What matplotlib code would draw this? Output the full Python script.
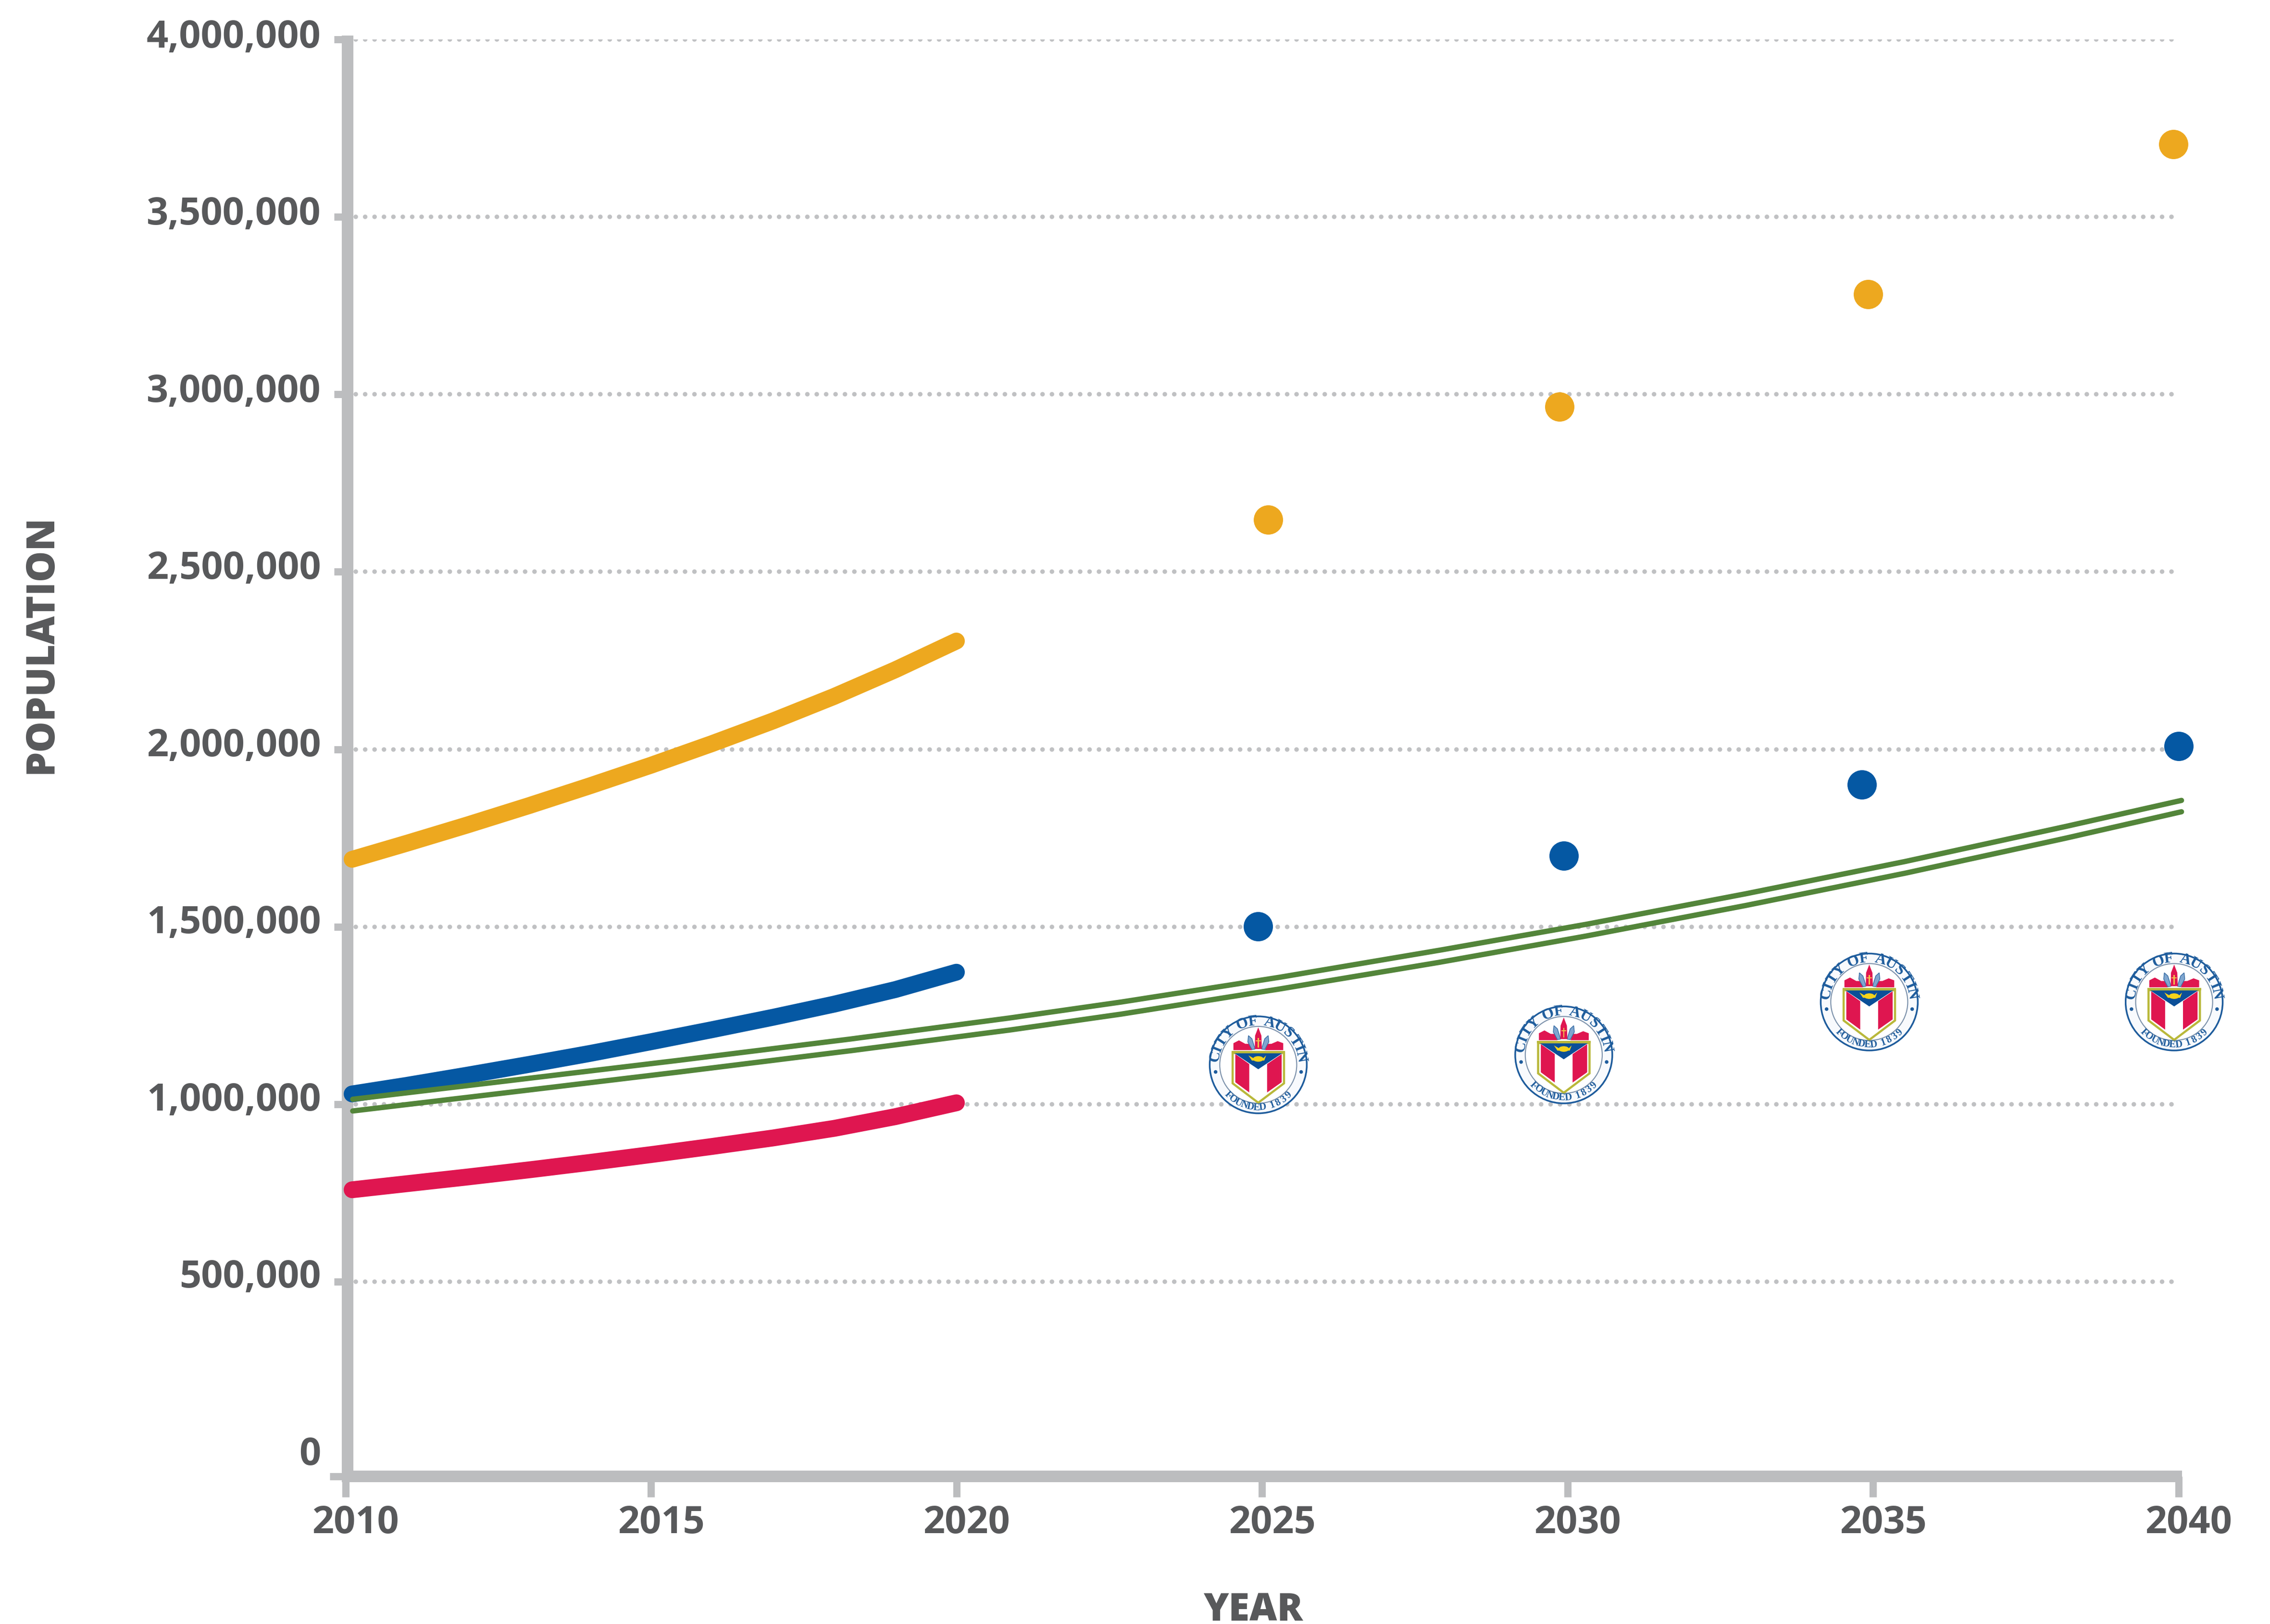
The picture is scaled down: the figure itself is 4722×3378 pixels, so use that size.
import numpy as np
import matplotlib
matplotlib.use("Agg")
import matplotlib.pyplot as plt
from matplotlib.patches import Circle, Ellipse, Polygon
from matplotlib.transforms import Affine2D

W, H, DPI = 4722, 3378, 100
PX = 72 / DPI   # un pixel en puntos

# ----------------- Datos -----------------
x_ticks = [2010, 2015, 2020, 2025, 2030, 2035, 2040]
y_values = [500000, 1000000, 1500000, 2000000, 2500000, 3000000, 3500000, 4000000]
y_labels = ["0", "500,000", "1,000,000", "1,500,000", "2,000,000",
            "2,500,000", "3,000,000", "3,500,000", "4,000,000"]
y_floor = -42500    # el eje horizontal queda un poco por debajo del cero

years_hist = [2010.11, 2011, 2012, 2013, 2014, 2015, 2016, 2017, 2018, 2019, 2020]
orange_hist = [1690000, 1735000, 1787000, 1841000, 1897000, 1955000, 2016000, 2080000, 2149000, 2224000, 2305000]
blue_hist = [1029000, 1053000, 1082000, 1112000, 1143000, 1176000, 1210000, 1245000, 1282000, 1323000, 1372000]
red_hist = [759000, 776000, 795000, 815000, 836000, 858000, 881000, 905000, 932000, 965000, 1004000]

green_years = [2010.12, 2012.66, 2015.47, 2018.28, 2020.87, 2022.7, 2025.3, 2027.91,
               2030.31, 2032.92, 2035.53, 2038.14, 2040.05]
green_upper = [1014000, 1066000, 1124000, 1184000, 1243000, 1288000, 1358000, 1434000,
               1507000, 1593000, 1684000, 1782000, 1856000]
green_lower = [981000, 1033000, 1091000, 1151000, 1209000, 1254000, 1325000, 1400000,
               1474000, 1560000, 1651000, 1749000, 1824000]

orange_years = [2025.1, 2029.87, 2034.92, 2039.92]
orange_dots = [2647000, 2965000, 3282000, 3705000]
blue_years = [2024.94, 2029.94, 2034.82, 2040.0]
blue_dots = [1501000, 1700000, 1900000, 2009000]
seal_years = [2024.94, 2029.94, 2034.94, 2039.93]
seal_values = [1111000, 1139000, 1288000, 1288000]

# ----------------- Colores ------------------
C_AXIS = "#BCBDBF"
C_DOT = "#C0C1C3"
C_TEXT = "#58595B"
C_ORANGE = "#EDA81F"
C_BLUE = "#0558A3"
C_RED = "#DF1650"
C_GREEN = "#53853A"
C_SEAL = "#1E5C9C"
C_GOLD = "#B9B83A"
C_YELLOW = "#F6D31A"

plt.rcParams["font.family"] = ["Open Sans", "DejaVu Sans"]
plt.rcParams["font.weight"] = "bold"


def arc_text(sax, texto, r, a_ini, a_fin, size, abajo=False):
    # Letras sueltas colocadas sobre un arco del sello
    pesos = [0.55 if c in " I" else 1.0 for c in texto]
    acum = np.cumsum(pesos) - np.array(pesos) / 2
    acum = acum / np.sum(pesos)
    for c, f in zip(texto, acum):
        a = np.radians(a_ini + (a_fin - a_ini) * f)
        rot = np.degrees(a) + (90 if abajo else -90)
        sax.text(r * np.cos(a), r * np.sin(a), c, rotation=rot, rotation_mode="anchor",
                 ha="center", va="center", fontsize=size, color=C_SEAL,
                 family="Liberation Serif", weight="bold")


def poly(sax, puntos, color, **kw):
    # Coordenadas tomadas del sello: centro (502, 505), radio 310
    xy = [((x - 502) / 310, (505 - y) / 310) for x, y in puntos]
    sax.add_patch(Polygon(xy, closed=True, facecolor=color, linewidth=kw.pop("lw", 0), **kw))


def dibujar_sello(ax, year, value, rx, ry):
    sax = ax.inset_axes([year - rx, value - ry, 2 * rx, 2 * ry], transform=ax.transData)
    sax.set_xlim(-1.01, 1.01)
    sax.set_ylim(-1.01, 1.01)
    sax.axis("off")
    sax.add_patch(Circle((0, 0), 0.99, facecolor="#F8FAFD", edgecolor=C_SEAL, linewidth=3.5 * PX))
    sax.add_patch(Circle((0, 0), 0.785, facecolor="white", edgecolor="#7E93AC", linewidth=2.2 * PX))

    arc_text(sax, "CITY OF AUSTIN", 0.885, 176, 4, 23)
    arc_text(sax, "FOUNDED 1839", 0.875, 221, 319, 15, abajo=True)
    sax.add_patch(Circle((-0.87, -0.145), 0.03, color=C_SEAL))
    sax.add_patch(Circle((0.875, -0.145), 0.03, color=C_SEAL))

    # castillo, llama y hojas
    poly(sax, [(345, 412), (345, 368), (380, 350), (420, 372), (445, 372), (462, 412)], C_RED)
    poly(sax, [(660, 412), (660, 368), (625, 355), (585, 372), (560, 372), (545, 412)], C_RED)
    poly(sax, [(440, 320), (462, 340), (482, 405), (462, 408), (436, 360)], "#7FA6CF", edgecolor="#3A6EA5", lw=1.5 * PX)
    poly(sax, [(565, 320), (543, 340), (523, 405), (543, 408), (569, 360)], "#7FA6CF", edgecolor="#3A6EA5", lw=1.5 * PX)
    poly(sax, [(480, 405), (482, 320), (502, 268), (522, 320), (525, 405)], C_RED)
    poly(sax, [(498, 335), (506, 335), (506, 395), (498, 395)], "#F3C34A")
    poly(sax, [(486, 350), (518, 350), (518, 356), (486, 356)], "#F3C34A")

    # escudo
    poly(sax, [(340, 430), (665, 430), (665, 622), (502, 745), (340, 622)], "white",
         edgecolor=C_GOLD, lw=4.5 * PX)
    poly(sax, [(333, 416), (672, 416), (672, 432), (333, 432)], C_GOLD)
    poly(sax, [(357, 437), (445, 500), (445, 680), (357, 615)], C_RED)
    poly(sax, [(650, 437), (558, 500), (558, 680), (650, 615)], C_RED)
    poly(sax, [(352, 432), (653, 432), (502, 533)], "#0B4F98")
    # lampara
    sax.add_patch(Ellipse((0, 0.12), 0.2, 0.1, color=C_YELLOW))
    poly(sax, [(440, 445), (470, 462), (535, 462), (552, 445), (540, 478), (462, 478)], C_YELLOW)


# ----------------- Figura -------------------
fig = plt.figure(figsize=(W / DPI, H / DPI), dpi=DPI)
ax = fig.add_axes([718.5 / W, 1 - 3071 / H, (4531.5 - 718.5) / W, (3071 - 82) / H])
ax.set_xlim(2010, 2040)
ax.set_ylim(y_floor, 4000000)

# lineas de puntos
for v in y_values:
    ax.plot([2010.173, 2039.96], [v, v], color=C_DOT, linewidth=9.5 * PX,
            linestyle=(0, (0.01, 2.05)), dash_capstyle="round", zorder=1)

for vals, col in [(orange_hist, C_ORANGE), (blue_hist, C_BLUE), (red_hist, C_RED)]:
    ax.plot(years_hist, vals, color=col, linewidth=35 * PX, solid_capstyle="round",
            solid_joinstyle="round", zorder=3, clip_on=False)

for vals in [green_upper, green_lower]:
    ax.plot(green_years, vals, color=C_GREEN, linewidth=11 * PX, solid_capstyle="round",
            solid_joinstyle="round", zorder=4, clip_on=False)

ax.scatter(orange_years, orange_dots, s=(61 * PX) ** 2, color=C_ORANGE, linewidths=0, zorder=4, clip_on=False)
ax.scatter(blue_years, blue_dots, s=(61 * PX) ** 2, color=C_BLUE, linewidths=0, zorder=4, clip_on=False)

# radio del sello en unidades de datos
px_x = (2040 - 2010) / (4531.5 - 718.5)
px_y = (4000000 - y_floor) / (3071 - 82)
for sy, sv in zip(seal_years, seal_values):
    dibujar_sello(ax, sy, sv, 103 * px_x, 103 * px_y)

# ejes
for lado in ["top", "right"]:
    ax.spines[lado].set_visible(False)
ax.spines["left"].set_linewidth(24 * PX)
ax.spines["left"].set_color(C_AXIS)
ax.spines["left"].set_capstyle("butt")
ax.spines["left"].set_position(("outward", -4.5 * PX))
ax.spines["left"].set_bounds(y_floor - 12 * px_y, 4000000 + 8 * px_y)
ax.spines["bottom"].set_linewidth(24 * PX)
ax.spines["bottom"].set_color(C_AXIS)
ax.spines["bottom"].set_capstyle("butt")
ax.spines["bottom"].set_bounds(2010 - 7.5 * px_x, 2040 + 7.5 * px_x)

ax.set_xticks(x_ticks, [str(x) for x in x_ticks])
ax.set_yticks([y_floor - 4.5 * px_y] + y_values, y_labels)
ax.tick_params(axis="x", length=43 * PX, width=15 * PX, color=C_AXIS, pad=75 * PX,
               labelsize=57, labelcolor=C_TEXT)
ax.tick_params(axis="y", length=28.5 * PX, width=15 * PX, color=C_AXIS, pad=27 * PX,
               labelsize=57, labelcolor=C_TEXT)

for t in ax.xaxis.get_major_ticks():
    t.label1.set_va("baseline")
    t.label1.set_transform(t.label1.get_transform() + Affine2D().translate(21, 0))

for i, t in enumerate(ax.yaxis.get_major_ticks()):
    t.label1.set_va("baseline")
    # las etiquetas van algo por encima de su marca
    dy = 23.5 if i == 0 else -(13 + 4 * (i - 2) / 6)
    t.label1.set_transform(t.label1.get_transform() + Affine2D().translate(0, dy))
ax.yaxis.get_major_ticks()[0].tick1line.set_markersize(37.5 * PX)

ax.set_xlabel("YEAR", fontsize=57, color=C_TEXT, weight="heavy", va="baseline")
ax.xaxis.set_label_coords(2607 / W, 1 - 3371 / H, transform=fig.transFigure)
ax.set_ylabel("POPULATION", fontsize=58.5, color=C_TEXT, weight="heavy", va="baseline",
              ha="center", rotation=90, rotation_mode="anchor")
ax.yaxis.set_label_coords(108 / W, 1 - 1340 / H, transform=fig.transFigure)

fig.savefig("out.png", dpi=DPI, facecolor="white")
